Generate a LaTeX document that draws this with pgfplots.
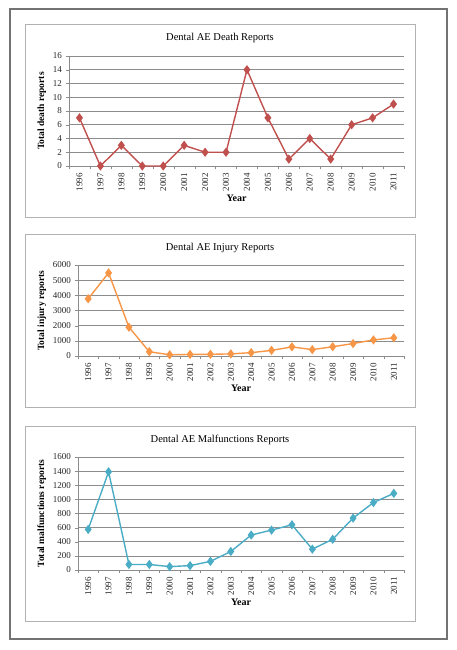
\documentclass[border=0pt]{standalone}
\usepackage{fontspec}
\setmainfont{Liberation Serif}
\usepackage{pgfplots}
\pgfplotsset{compat=1.18}
\definecolor{cRed}{HTML}{C0504D}
\definecolor{cOrange}{HTML}{F79646}
\definecolor{cTeal}{HTML}{4BACC6}
\definecolor{gridc}{HTML}{8C8C8C}
\pgfplotsset{
  panel/.style={
    scale only axis,
    anchor=south west,
    xmin=-0.5, xmax=15.5,
    axis x line*=bottom, axis y line*=left,
    axis line style={-, draw=gridc},
    xtick={0,...,15},
    xticklabels={1996,1997,1998,1999,2000,2001,2002,2003,2004,2005,2006,2007,2008,2009,2010,2011},
    minor xtick={-0.5,0.5,...,15.5},
    major x tick style={draw=none},
    minor x tick style={draw=gridc},
    minor tick length=3.5pt,
    major tick length=3.5pt,
    tick align=outside,
    ytick style={draw=gridc},
    ymajorgrids,
    grid style={draw=gridc, line width=0.6pt},
    xticklabel style={rotate=90, anchor=east, font=\fontsize{9}{10}\selectfont, text=black!85},
    yticklabel style={font=\fontsize{9}{10}\selectfont, text=black!85},
    /pgf/number format/assume math mode=true,
    /pgf/number format/1000 sep={},
    ylabel style={font=\fontsize{9.5}{10}\selectfont\bfseries},
    xlabel style={font=\fontsize{10}{10}\selectfont\bfseries, yshift=3pt},
    xlabel={Year},
    clip=false,
  },
  ser/.style={color=#1, line width=1.4pt, mark=diamond*, mark size=3.5pt, mark options={fill=#1, draw=#1}},
}
\begin{document}
\begin{tikzpicture}
\path[use as bounding box] (0pt,0pt) rectangle (457pt,650pt);
% outer border
\draw[draw=black!55, line width=1.2pt] (10pt,11pt) rectangle (447pt,641pt);
% panel boxes
\draw[draw=black!30, line width=0.7pt] (25pt,433pt) rectangle (415pt,626pt);
\draw[draw=black!30, line width=0.7pt] (25pt,243pt) rectangle (415pt,416pt);
\draw[draw=black!30, line width=0.7pt] (25pt,29pt) rectangle (415pt,224pt);
% titles
\node[font=\fontsize{10.5}{12}\selectfont] at (220pt,612pt) {Dental AE Death Reports};
\node[font=\fontsize{10.5}{12}\selectfont] at (220pt,402pt) {Dental AE Injury Reports};
\node[font=\fontsize{10.5}{12}\selectfont] at (220pt,210pt) {Dental AE Malfunctions Reports};

\begin{axis}[panel, at={(69pt,484pt)}, width=335pt, height=110pt,
  ymin=0, ymax=16, ytick={0,2,...,16}, ylabel={Total death reports}]
\addplot[ser=cRed] coordinates {
(0,7) (1,0) (2,3) (3,0) (4,0) (5,3) (6,2) (7,2) (8,14) (9,7) (10,1) (11,4) (12,1) (13,6) (14,7) (15,9)};
\end{axis}

\begin{axis}[panel, at={(78pt,294pt)}, width=326pt, height=91pt,
  ymin=0, ymax=6000, ytick={0,1000,...,6000}, ylabel={Total injury reports}]
\addplot[ser=cOrange] coordinates {
(0,3770) (1,5480) (2,1900) (3,280) (4,80) (5,100) (6,110) (7,140) (8,220) (9,370) (10,600) (11,420) (12,610) (13,820) (14,1060) (15,1200)};
\end{axis}

\begin{axis}[panel, at={(78pt,80pt)}, width=326pt, height=113pt,
  ymin=0, ymax=1600, ytick={0,200,...,1600}, ylabel={Total malfunctions reports}]
\addplot[ser=cTeal] coordinates {
(0,575) (1,1390) (2,78) (3,78) (4,48) (5,62) (6,122) (7,262) (8,495) (9,565) (10,640) (11,295) (12,435) (13,735) (14,955) (15,1085)};
\end{axis}
\end{tikzpicture}
\end{document}
